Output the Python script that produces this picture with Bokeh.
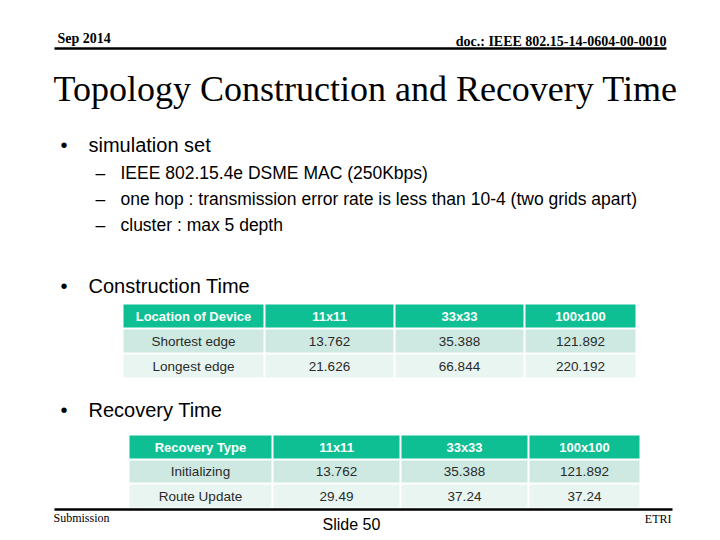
from bokeh.plotting import figure
from bokeh.models import Range1d
from bokeh.core.properties import value
from bokeh.embed import file_html
from bokeh.resources import INLINE

# ---------------- data ----------------
header_left = "Sep 2014"
header_right = "doc.: IEEE 802.15-14-0604-00-0010"
title = "Topology Construction and Recovery Time"
bullet1 = "simulation set"
sub_items = ["IEEE 802.15.4e DSME MAC (250Kbps)",
             "one hop : transmission error rate is less than 10-4 (two grids apart)",
             "cluster : max 5 depth"]
bullet2 = "Construction Time"
bullet3 = "Recovery Time"

grid_sizes = ["11x11", "33x33", "100x100"]

cons_header = "Location of Device"
cons_rows = ["Shortest edge", "Longest edge"]
cons_11 = ["13.762", "21.626"]
cons_33 = ["35.388", "66.844"]
cons_100 = ["121.892", "220.192"]

rec_header = "Recovery Type"
rec_rows = ["Initializing", "Route Update"]
rec_11 = ["13.762", "29.49"]
rec_33 = ["35.388", "37.24"]
rec_100 = ["121.892", "37.24"]

footer_left = "Submission"
footer_mid = "Slide 50"
footer_right = "ETRI"

# ---------------- figure ----------------
W, H = 712, 532
p = figure(width=W, height=H, output_backend="svg", toolbar_location=None,
           x_range=Range1d(0, W), y_range=Range1d(H, 0),
           min_border=0)
p.axis.visible = False
p.grid.visible = False
p.outline_line_color = None
p.background_fill_color = "white"

SERIF = value("Liberation Serif")
SANS = value("Liberation Sans")

# header
p.text(x=[57], y=[38], text=[header_left], text_font=SERIF, text_font_style="bold",
       text_font_size="14px", text_baseline="middle", text_align="left", text_color="black")
p.text(x=[666], y=[41], text=[header_right], text_font=SERIF, text_font_style="bold",
       text_font_size="14px", text_baseline="middle", text_align="right", text_color="black")
p.segment(x0=[54], y0=[48], x1=[666], y1=[48], line_color="black", line_width=2.5)

# title
p.text(x=[365], y=[88], text=[title], text_font=SERIF, text_font_size="36px",
       text_baseline="middle", text_align="center", text_color="black")

# bullets
for yy, t in [(144, bullet1), (285, bullet2), (409, bullet3)]:
    p.text(x=[60], y=[yy], text=["•"], text_font=SANS, text_font_size="20px",
           text_baseline="middle", text_align="left", text_color="black")
    p.text(x=[88], y=[yy], text=[t], text_font=SANS, text_font_size="20px",
           text_baseline="middle", text_align="left", text_color="black")

sub_y = [172, 198, 224]
p.text(x=[95] * 3, y=sub_y, text=["–"] * 3, text_font=SANS, text_font_size="17.5px",
       text_baseline="middle", text_align="left", text_color="black")
p.text(x=[120] * 3, y=sub_y, text=sub_items, text_font=SANS, text_font_size="17.5px",
       text_baseline="middle", text_align="left", text_color="black")

HEAD_C = "#0dbf92"
ROW_C = ["#cde9e1", "#e8f5f1"]


def draw_table(col_edges, row_edges, head_label, row_labels, c1, c2, c3):
    lefts, rights, tops, bottoms, fills = [], [], [], [], []
    for r in range(3):
        for c in range(4):
            lefts.append(col_edges[c] + 1)
            rights.append(col_edges[c + 1] - 1)
            tops.append(row_edges[r] + 1)
            bottoms.append(row_edges[r + 1] - 1)
            fills.append(HEAD_C if r == 0 else ROW_C[r - 1])
    p.quad(left=lefts, right=rights, top=tops, bottom=bottoms,
           fill_color=fills, line_color=None)
    cx = [(col_edges[i] + col_edges[i + 1]) / 2 for i in range(4)]
    cy = [(row_edges[i] + row_edges[i + 1]) / 2 for i in range(3)]
    heads = [head_label] + grid_sizes
    p.text(x=cx, y=[cy[0]] * 4, text=heads, text_font=SANS, text_font_style="bold",
           text_font_size="13px", text_baseline="middle", text_align="center",
           text_color="white")
    for r in range(2):
        vals = [row_labels[r], c1[r], c2[r], c3[r]]
        p.text(x=cx, y=[cy[r + 1]] * 4, text=vals, text_font=SANS,
               text_font_size="13.5px", text_baseline="middle", text_align="center",
               text_color="#2a2a2a")


draw_table([122, 264, 394, 524, 636], [303, 328, 353, 378],
           cons_header, cons_rows, cons_11, cons_33, cons_100)
draw_table([128, 272, 400, 528, 640], [434, 459, 483, 508],
           rec_header, rec_rows, rec_11, rec_33, rec_100)

# footer
p.segment(x0=[54], y0=[509], x1=[672], y1=[509], line_color="black", line_width=2.5)
p.text(x=[53], y=[517], text=[footer_left], text_font=SERIF, text_font_size="12px",
       text_baseline="middle", text_align="left", text_color="black")
p.text(x=[351], y=[524], text=[footer_mid], text_font=SANS, text_font_size="16px",
       text_baseline="middle", text_align="center", text_color="black")
p.text(x=[671], y=[518], text=[footer_right], text_font=SERIF, text_font_size="12px",
       text_baseline="middle", text_align="right", text_color="black")

open("out.html", "w").write(file_html(p, INLINE))
